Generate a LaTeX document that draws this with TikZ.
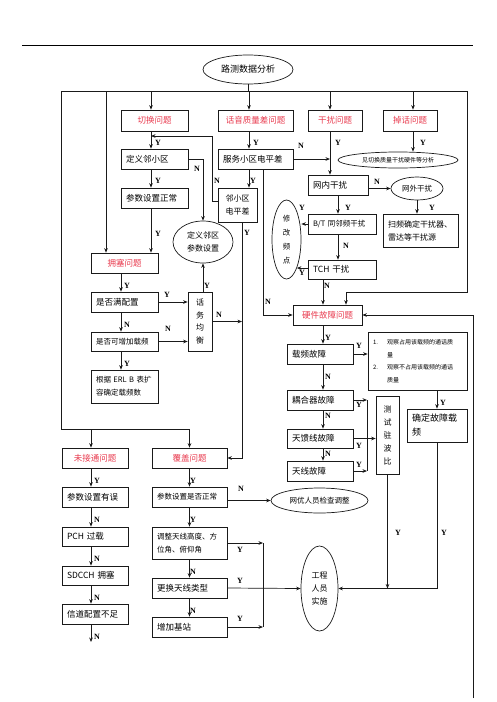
\documentclass[tikz,border=0pt]{standalone}
\usepackage{fontspec}
\setmainfont{Noto Sans CJK SC}
\newfontfamily\ynfont{Liberation Serif}
\usetikzlibrary{arrows.meta,shapes.geometric}
\definecolor{ProbRed}{HTML}{E8394D}
\definecolor{LineBlk}{HTML}{1A1A1A}
\tikzset{
  every picture/.append style={>=Stealth},
  blk/.style={rectangle, draw=LineBlk, line width=0.7pt, inner xsep=5pt, inner ysep=1pt,
              align=left, font=\fontsize{8.5}{12}\selectfont},
  prb/.style={blk, align=center, text=ProbRed},
  vbx/.style={rectangle, draw=LineBlk, line width=0.7pt, inner sep=0pt, align=center,
              font=\fontsize{8}{12.8}\selectfont},
  ovl/.style={ellipse, draw=LineBlk, line width=0.7pt, inner sep=0pt, align=center,
              font=\fontsize{7.5}{13}\selectfont},
  flow/.style={-{Stealth[length=4.5pt,width=3.6pt]}, line width=0.7pt, draw=LineBlk},
  wire/.style={line width=0.7pt, draw=LineBlk},
  yn/.style={font=\ynfont\bfseries\fontsize{8}{8}\selectfont, inner sep=0pt},
}

\begin{document}
\begin{tikzpicture}[x=1pt,y=-1pt]
\useasboundingbox (0,0) rectangle (496,702);

% ---------------- anchors of the frame and columns ----------------
\coordinate (hdL) at (22,45);   \coordinate (hdR) at (473,45);
\coordinate (fL) at (61,91);    \coordinate (fR) at (467,91);
\coordinate (fBL) at (61,429);  \coordinate (fBR) at (189.5,429);
\coordinate (xCong) at (106,0); \coordinate (xQh) at (151,0);
\coordinate (xHy) at (249,0);   \coordinate (xGr) at (330,0);
\coordinate (xDh) at (413,0);   \coordinate (xWn) at (338,0);
\coordinate (xYs) at (121,0);   \coordinate (xWj) at (91,0);
\coordinate (xZp) at (323,0);   \coordinate (xLq) at (242,0);
\coordinate (xFw) at (263,0);   \coordinate (xBr) at (367,0);
\coordinate (xBr2) at (263,0);
\coordinate (lqA) at (212,201); \coordinate (qhIn) at (151,136);
\coordinate (hwTurn) at (346,292);
\coordinate (rBot) at (473,698);
\coordinate (wjEnd) at (91,642);

% ---------------- title ----------------
\node[ovl, minimum width=90pt, minimum height=29pt, font=\fontsize{9}{9}\selectfont] (title) at (248,69.5) {路测数据分析};

% ---------------- problem headings ----------------
\node[prb, text width=57pt, minimum height=21pt] (qiehuan) at (154.5,120.5) {切换问题};
\node[prb, text width=65pt, minimum height=21pt] (huayin) at (255.5,120.5) {话音质量差问题};
\node[prb, text width=44pt, minimum height=21pt] (ganrao) at (335,120.5) {干扰问题};
\node[prb, text width=44pt, minimum height=21pt] (diaohua) at (410,120.5) {掉话问题};
\node[prb, text width=57pt, minimum height=20pt] (yongsai) at (124.5,263) {拥塞问题};
\node[prb, text width=59pt, minimum height=20pt] (yingjian) at (327.5,315) {硬件故障问题};
\node[prb, text width=56pt, minimum height=20pt] (weijt) at (95,458) {未接通问题};
\node[prb, text width=65pt, minimum height=20pt] (fugai) at (189.5,458) {覆盖问题};

% ---------------- handover / voice ----------------
\node[blk, text width=57pt, minimum height=20pt] (dingyi) at (154.5,159) {定义邻小区};
\node[blk, text width=57pt, minimum height=20pt] (canshu) at (154.5,198) {参数设置正常};
\node[blk, text width=65pt, minimum height=20pt] (fuwu) at (255.5,159) {服务小区电平差};
\node[blk, align=center, text width=29pt, minimum height=34pt, font=\fontsize{8}{13}\selectfont] (linxq) at (237.5,205) {邻小区\\电平差};
\node[ovl, minimum width=60pt, minimum height=42pt, font=\fontsize{8}{13}\selectfont] (dyparam) at (203,242) {定义邻区\\参数设置};

% ---------------- interference / dropped calls ----------------
\node[ovl, minimum width=120pt, minimum height=16pt, font=\fontsize{6}{6}\selectfont] (jianqh) at (398,160) {见切换质量干扰硬件等分析};
\node[blk, text width=50pt, minimum height=20pt] (wangnei) at (338,185) {网内干扰};
\node[ovl, minimum width=52pt, minimum height=23pt] (wangwai) at (417,188.5) {网外干扰};
\node[blk, text width=65pt, minimum height=33pt, font=\fontsize{8}{13}\selectfont] (saopin) at (420.5,230.5) {扫频确定干扰器、\\雷达等干扰源};
\node[blk, text width=58pt, minimum height=20pt, font=\fontsize{7.5}{10}\selectfont] (bt) at (342,224) {B/T 同邻频干扰};
\node[blk, text width=58pt, minimum height=19pt] (tch) at (342,269.5) {TCH 干扰};
\node[ovl, minimum width=29pt, minimum height=79pt, font=\fontsize{7.5}{14}\selectfont] (xiugai) at (286.5,239.5) {修\\改\\频\\点};

% ---------------- congestion ----------------
\node[blk, text width=57pt, minimum height=20pt] (manpz) at (124.5,302) {是否满配置};
\node[blk, text width=57pt, minimum height=19pt, font=\fontsize{7.5}{10}\selectfont] (kezj) at (124.5,341.5) {是否可增加载频};
\node[blk, text width=57pt, minimum height=33pt, font=\fontsize{7.5}{13}\selectfont] (erlb) at (124.5,386.5) {根据 ERL B 表扩\\容确定载频数};
\node[vbx, minimum width=24pt, minimum height=59pt] (huawu) at (200,321.5) {话\\务\\均\\衡};

% ---------------- hardware ----------------
\node[blk, text width=56pt, minimum height=20pt] (zaipin) at (320,354) {载频故障};
\node[blk, text width=56pt, minimum height=20pt] (ouhe) at (320,400) {耦合器故障};
\node[blk, text width=56pt, minimum height=19pt] (tiankui) at (320,438.5) {天馈线故障};
\node[blk, text width=56pt, minimum height=20pt] (tianxian) at (320,471) {天线故障};
\node[blk, text width=89pt, minimum height=58pt, font=\fontsize{6}{12.5}\selectfont] (notes) at (417.5,361)
  {1.\hspace{9pt}观察占用该载频的通话质\\\hspace*{14pt}量\\2.\hspace{9pt}观察不占用该载频的通话\\\hspace*{14pt}质量};
\node[blk, text width=50pt, minimum height=33pt, font=\fontsize{9}{14}\selectfont] (queding) at (437,425.5) {确定故障载\\频};
\node[vbx, minimum width=23pt, minimum height=78pt, font=\fontsize{8}{13}\selectfont] (zhubo) at (387.5,435) {测\\试\\驻\\波\\比};

% ---------------- not connected / coverage ----------------
\node[blk, text width=56pt, minimum height=20pt] (cswy) at (95,497) {参数设置有误};
\node[blk, text width=56pt, minimum height=19pt] (pch) at (95,536.5) {PCH 过载};
\node[blk, text width=56pt, minimum height=19pt] (sdcch) at (95,575.5) {SDCCH 拥塞};
\node[blk, text width=56pt, minimum height=20pt] (xindao) at (95,614) {信道配置不足};
\node[blk, text width=65pt, minimum height=20pt, font=\fontsize{7.5}{10}\selectfont] (csfz) at (189.5,497) {参数设置是否正常};
\node[blk, text width=65pt, minimum height=32pt, font=\fontsize{7.5}{13}\selectfont] (tiaozheng) at (189.5,543) {调整天线高度、方\\位角、俯仰角};
\node[blk, text width=65pt, minimum height=20pt] (genghuan) at (189.5,588) {更换天线类型};
\node[blk, text width=65pt, minimum height=20pt] (zengjia) at (189.5,627) {增加基站};
\node[ovl, minimum width=97pt, minimum height=25pt] (wangyou) at (319.5,500.5) {网优人员检查调整};
\node[ovl, minimum width=37pt, minimum height=85pt, font=\fontsize{8}{13}\selectfont] (gongcheng) at (319.5,588.5) {工程\\人员\\实施};

% ---------------- header line and frame ----------------
\draw[line width=0.8pt] (hdL) -- (hdR);
\draw[wire] (title.south) -- (title.south |- fL);
\draw[wire] (fL) -- (fR);
\draw[wire] (fL) -- (fBL) -- (fBR);
\draw[flow] (fR) |- (hwTurn) -- (hwTurn |- yingjian.north);
\draw[flow] (xCong |- fL) -- (xCong |- yongsai.north);
\draw[flow] (xQh |- fL) -- (xQh |- qiehuan.north);
\draw[flow] (xHy |- fL) -- (xHy |- huayin.north);
\draw[flow] (xGr |- fL) -- (xGr |- ganrao.north);
\draw[flow] (xDh |- fL) -- (xDh |- diaohua.north);
\draw[flow] (xWj |- fBL) -- (xWj |- weijt.north);
\draw[flow] (fBR) -- (fugai.north);

% ---------------- handover / voice ----------------
\draw[flow] (xQh |- qiehuan.south) -- (xQh |- dingyi.north);
\draw[flow] (xQh |- dingyi.south) -- (xQh |- canshu.north);
\draw[flow] (xQh |- canshu.south) -- (xQh |- yongsai.north);
\draw[flow] (dingyi.east) -| (dyparam.north);
\draw[flow] (linxq.west |- lqA) -- (lqA) |- (qhIn);
\draw[flow] (xHy |- huayin.south) -- (xHy |- fuwu.north);
\draw[flow] (fuwu.east) -- (xGr |- fuwu.east);
\draw[flow] (xHy |- fuwu.south) -- (xHy |- linxq.north);
\draw[flow] (xLq |- linxq.south) |- (fugai.east);
\draw[flow] (xFw |- fuwu.south) |- (yingjian.west);

% ---------------- interference / dropped calls ----------------
\draw[flow] (xGr |- ganrao.south) -- (xGr |- wangnei.north);
\draw[flow] (xDh |- diaohua.south) -- (xDh |- jianqh.north);
\draw[flow] (wangnei.east |- wangwai.west) -- (wangwai.west);
\draw[flow] (wangwai.south) -- (wangwai.south |- saopin.north);
\draw[flow] (xWn |- wangnei.south) -- (xWn |- bt.north);
\draw[flow] (bt.west) -- (xiugai.east |- bt.west);
\draw[flow] (xWn |- bt.south) -- (xWn |- tch.north);
\draw[flow] (tch.west |- xiugai.-70) -- (xiugai.-70);
\draw[flow] (xZp |- tch.south) -- (xZp |- yingjian.north);

% ---------------- congestion ----------------
\draw[flow] (xYs |- yongsai.south) -- (xYs |- manpz.north);
\draw[flow] (manpz.east) -- (huawu.west |- manpz.east);
\draw[flow] (xYs |- manpz.south) -- (xYs |- kezj.north);
\draw[flow] (kezj.east) -- (huawu.west |- kezj.east);
\draw[flow] (xYs |- kezj.south) -- (xYs |- erlb.north);
\draw[flow] (dyparam.south |- huawu.north) -- (dyparam.south);
\draw[flow] (huawu.east) -- (xLq |- huawu.east);

% ---------------- hardware ----------------
\draw[flow] (rBot) |- (yingjian.east);
\draw[flow] (xZp |- yingjian.south) -- (xZp |- zaipin.north);
\draw[flow] (zaipin.east) -- (notes.west |- zaipin.east);
\draw[flow] (queding.north |- notes.south) -- (queding.north);
\draw[flow] (xZp |- zaipin.south) -- (xZp |- ouhe.north);
\draw[flow] (xZp |- ouhe.south) -- (xZp |- tiankui.north);
\draw[flow] (xZp |- tiankui.south) -- (xZp |- tianxian.north);
\draw[flow] (ouhe.east) -- (xBr |- ouhe.east);
\draw[flow] (tianxian.east) -- (xBr |- tianxian.east);
\draw[wire] (xBr |- ouhe.east) -- (xBr |- tianxian.east);
\draw[flow] (tiankui.east) -- (zhubo.west |- tiankui.east);
\draw[flow] (zhubo.south) -- (zhubo.south |- gongcheng.east);
\draw[flow] (queding.south) |- (gongcheng.east);

% ---------------- not connected / coverage ----------------
\draw[flow] (xWj |- weijt.south) -- (xWj |- cswy.north);
\draw[flow] (xWj |- cswy.south) -- (xWj |- pch.north);
\draw[flow] (xWj |- pch.south) -- (xWj |- sdcch.north);
\draw[flow] (xWj |- sdcch.south) -- (xWj |- xindao.north);
\draw[flow] (xWj |- xindao.south) -- (wjEnd);
\draw[flow] (fugai.south) -- (csfz.north);
\draw[flow] (csfz.south) -- (tiaozheng.north);
\draw[flow] (tiaozheng.south) -- (genghuan.north);
\draw[flow] (genghuan.south) -- (zengjia.north);
\draw[flow] (csfz.east |- wangyou.west) -- (wangyou.west);
\draw[flow] (tiaozheng.east) -- (xBr2 |- tiaozheng.east);
\draw[flow] (zengjia.east) -- (xBr2 |- zengjia.east);
\draw[wire] (xBr2 |- tiaozheng.east) -- (xBr2 |- zengjia.east);
\draw[flow] (genghuan.east) -- (gongcheng.west);

% ---------------- Y / N marks ----------------
\foreach \p [count=\i] in {{158,143},{158,181},{158,234},{256,143},{253,181},{247,233},
    {338,143},{423,143},{432,208},{348,208},{302,208},{302,273},{328,338},{359,346},
    {443,403},{359,405},{359,446},{359,465},{398,533},{444,533},{127,286},{167,295},
    {127,364},{207,286},{97,481},{193,481},{193,520},{240,550},{240,581},{240,619}}
  \node[yn] (ly\i) at (\p) {Y};
\foreach \p [count=\i] in {{197,169},{217,181},{301,146},{268,302},{377,182},{346,246},
    {327,286},{328,377},{328,416},{328,454},{127,325},{168,329},{219,315},{97,520},
    {97,559},{97,598},{97,637},{241,489},{193,572},{193,611}}
  \node[yn] (ln\i) at (\p) {N};

\end{tikzpicture}
\end{document}
